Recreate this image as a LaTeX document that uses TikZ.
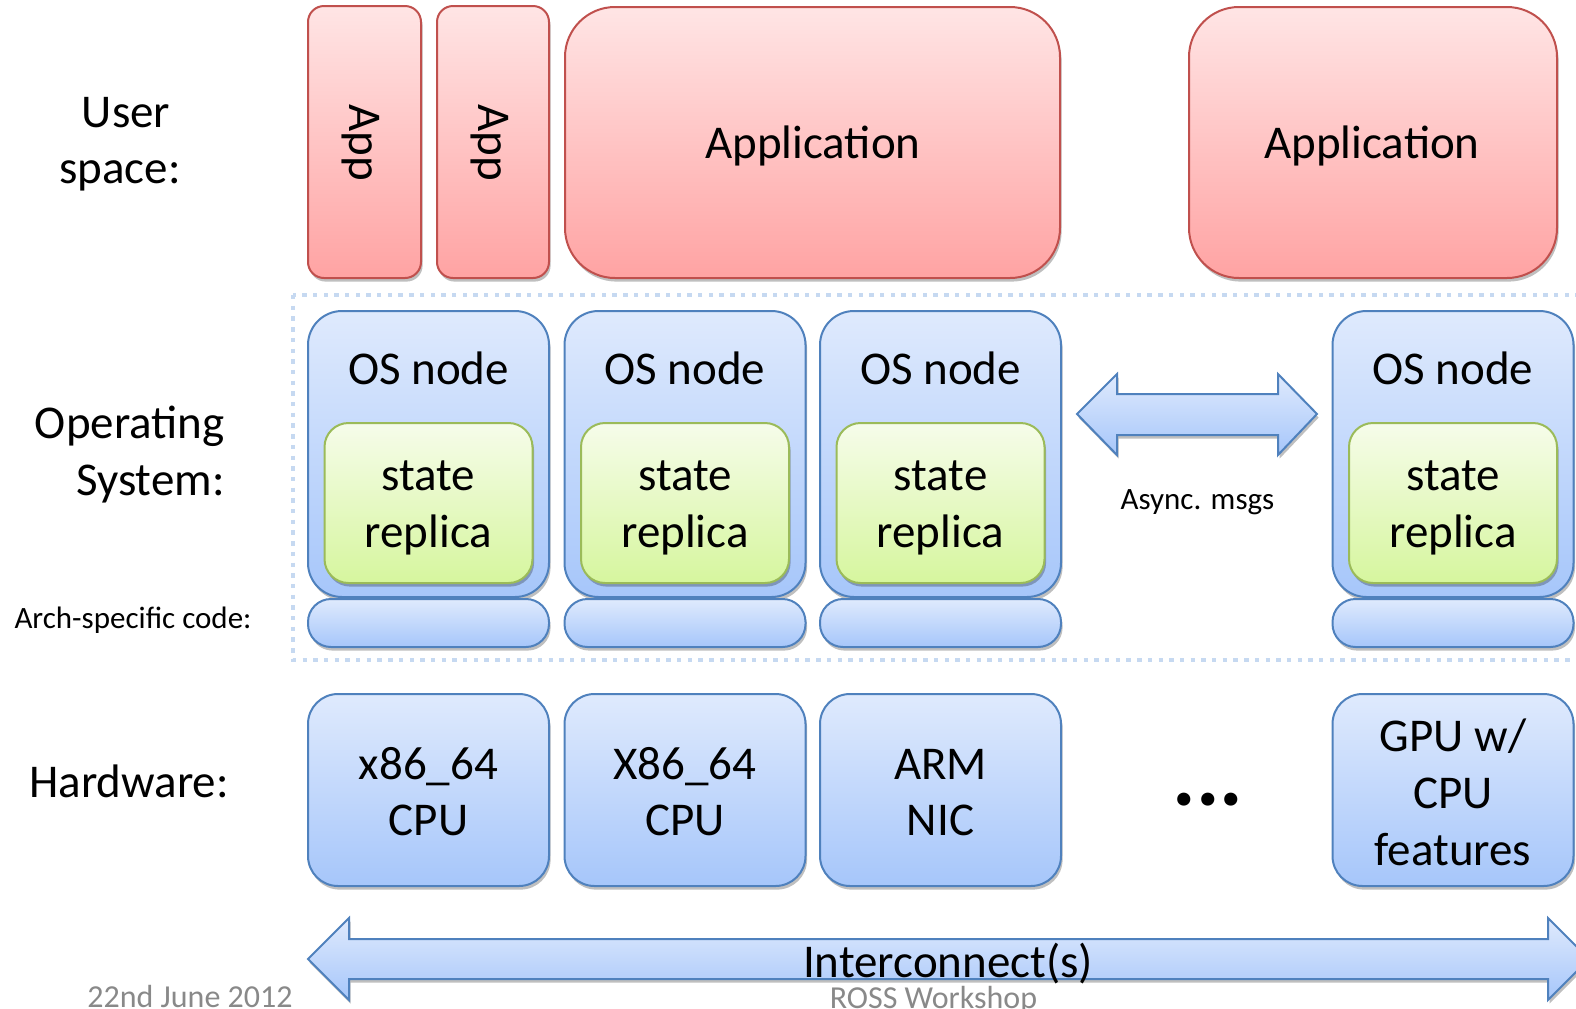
\documentclass[tikz,border=0pt]{standalone}
\usepackage{fontspec}
\setmainfont{Carlito}
\usetikzlibrary{shadows}
\definecolor{redtop}{RGB}{255,229,229}
\definecolor{redbot}{RGB}{255,163,163}
\definecolor{redline}{RGB}{192,80,77}
\definecolor{bluetop}{RGB}{223,234,253}
\definecolor{bluebot}{RGB}{166,198,250}
\definecolor{blueline}{RGB}{79,129,189}
\definecolor{greentop}{RGB}{246,252,234}
\definecolor{greenbot}{RGB}{214,246,158}
\definecolor{greenline}{RGB}{155,187,89}
\definecolor{dotblue}{RGB}{198,217,241}
\definecolor{footgrey}{RGB}{137,137,137}
\begin{document}
\begin{tikzpicture}[x=0.5pt,y=-0.5pt,
  big/.style={font=\fontsize{23.5}{28}\selectfont, inner sep=0pt, anchor=base},
  small/.style={font=\fontsize{15.5}{19}\selectfont, inner sep=0pt, anchor=base},
  foot/.style={font=\fontsize{16}{19}\selectfont, text=footgrey, inner sep=0pt, anchor=base},
  boxshadow/.style={drop shadow={shadow xshift=0.8pt,shadow yshift=-1.8pt,opacity=0.25,fill=black}},
  redbox/.style={draw=redline,line width=1pt,top color=redtop,bottom color=redbot,rounded corners=#1,boxshadow,inner sep=0pt},
  redbox/.default=8pt,
  bluebox/.style={draw=blueline,line width=1pt,top color=bluetop,bottom color=bluebot,rounded corners=#1,boxshadow,inner sep=0pt},
  bluebox/.default=15pt,
  greenbox/.style={draw=greenline,line width=1pt,top color=greentop,bottom color=greenbot,rounded corners=12pt,boxshadow,inner sep=0pt},
  blockarrow/.style={draw=blueline,line width=1pt,top color=bluetop,bottom color=bluebot,boxshadow,line join=miter},
  dotframe/.style={draw=dotblue,line width=2.2pt,dash pattern=on 2.2pt off 3.15pt}
]
\useasboundingbox (0,0) rectangle (1576,1008);
\clip (0,0) rectangle (1576,1008);

% OS dotted frame
\draw[dotframe] (293,295) rectangle (1620,660);

% labels
\node[big] (lu1) at (126,127) {User};
\node[big] (lu2) at (120,183) {space:};
\node[big,anchor=base east] (lo1) at (225,438) {Operating};
\node[big,anchor=base east] (lo2) at (225,495) {System:};
\node[small] (la) at (133,628) {Arch-specific code:};
\node[big] (lh) at (129,797) {Hardware:};

% user space
\node[redbox, minimum width=56.5pt, minimum height=136pt] (app1) at (364.5,142) {};
\node[redbox, minimum width=56pt, minimum height=136pt] (app2) at (493,142) {};
\node[big, anchor=center, rotate=-90] (app1t) at (361,143) {App};
\node[big, anchor=center, rotate=-90] (app2t) at (489.5,143) {App};
\node[redbox=25pt, minimum width=247.5pt, minimum height=135.5pt] (appl1) at (812.5,142.5) {};
\node[big] (appl1t) at (813,158) {Application};
\node[redbox=25pt, minimum width=184pt, minimum height=135.5pt] (appl2) at (1373,142.5) {};
\node[big] (appl2t) at (1372,158) {Application};

% OS nodes
\foreach \n/\cx in {1/428.5, 2/685, 3/940.5, 4/1453} {
  \node[bluebox=17pt, minimum width=120.5pt, minimum height=143pt] (os\n) at (\cx,454) {};
  \node[big] (os\n t) at (\cx,384) {OS node};
  \node[greenbox, minimum width=104pt, minimum height=80pt] (sr\n) at (\cx,503) {};
  \node[big] (sr\n a) at (\cx,490) {state};
  \node[big] (sr\n b) at (\cx,547) {replica};
  \node[bluebox=11.5pt, minimum width=120.5pt, minimum height=24pt] (arch\n) at (\cx,623) {};
  \node[bluebox=15pt, minimum width=120.5pt, minimum height=96pt] (hw\n) at (\cx,790) {};
}

% hardware texts
\node[big] (hw1a) at (428.5,779) {x86\_64};
\node[big] (hw1b) at (428.5,835) {CPU};
\node[big] (hw2a) at (685,779) {X86\_64};
\node[big] (hw2b) at (685,835) {CPU};
\node[big] (hw3a) at (940.5,779) {ARM};
\node[big] (hw3b) at (940.5,835) {NIC};
\node[big] (hw4a) at (1453,751) {GPU w/};
\node[big] (hw4b) at (1453,808) {CPU};
\node[big] (hw4c) at (1453,865) {features};
\node[font=\bfseries\fontsize{44}{50}\selectfont, inner sep=0pt, anchor=base] (dots) at (1208,805) {...};

% async arrow
\coordinate (aL) at (1077,414);
\coordinate (aR) at (1317,414);
\draw[blockarrow] (aL) -- (1117,374) -- (1117,394) -- (1278,394) -- (1278,374) -- (aR)
  -- (1278,455) -- (1278,435) -- (1117,435) -- (1117,455) -- cycle;
\node[small] (async) at (1197.5,509) {Async. msgs};

% interconnect arrow
\coordinate (iL) at (308,959);
\coordinate (iR) at (1589,959);
\draw[blockarrow] (iL) -- (349,918) -- (349,939) -- (1548,939) -- (1548,918) -- (iR)
  -- (1548,1000) -- (1548,979) -- (349,979) -- (349,1000) -- cycle;
\node[big] (ic) at (948,977) {Interconnect(s)};

% footer
\node[foot] (date) at (190,1007) {22nd June 2012};
\node[foot] (ross) at (933.5,1008) {ROSS Workshop};
\end{tikzpicture}
\end{document}
